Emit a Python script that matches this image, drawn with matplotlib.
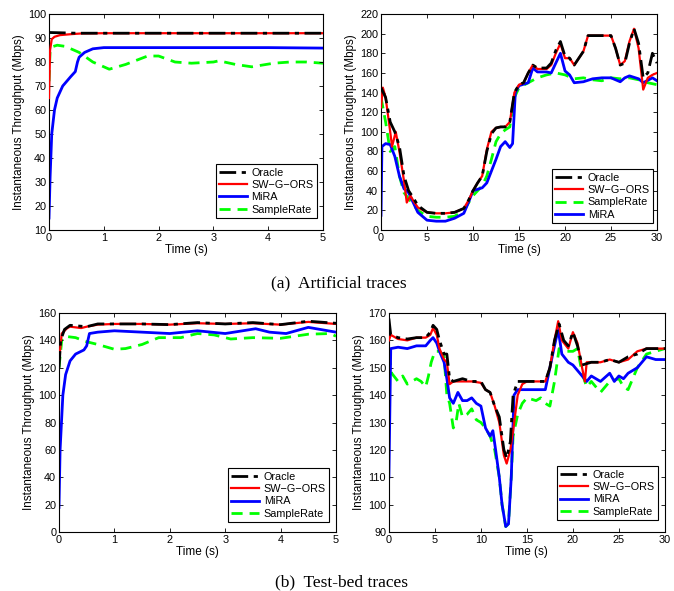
import numpy as np
import matplotlib
matplotlib.use('Agg')
import matplotlib.pyplot as plt

plt.rcParams['font.family'] = ['Liberation Sans', 'DejaVu Sans']
plt.rcParams['font.size'] = 7.5

# ---- (a) artificial traces, left: 0-5 s ----
a1_oracle_t = [0, 0.5, 1, 2, 3, 4, 5]
a1_oracle = [92.3, 92, 92, 92, 92, 92, 92]
a1_sw_t = [0, 0.02, 0.05, 0.1, 0.2, 0.4, 0.6, 1, 2, 3, 4, 5]
a1_sw = [65, 85, 89.5, 90.5, 91.2, 91.6, 91.9, 92, 92, 92, 92, 92]
a1_mira_t = [0, 0.02, 0.05, 0.1, 0.15, 0.25, 0.4, 0.48, 0.52, 0.55, 0.65, 0.8, 1.0, 2, 3, 4, 5]
a1_mira = [15, 32, 50, 60, 65, 70, 74, 76, 80, 82, 84, 85.5, 86, 86, 86, 86, 85.8]
a1_sr_t = [0, 0.02, 0.08, 0.15, 0.3, 0.55, 0.8, 1.1, 1.4, 1.8, 2.0, 2.3, 2.6, 3.0, 3.1, 3.4,
           3.7, 4.1, 4.4, 4.7, 5]
a1_sr = [72, 85, 86.5, 87, 86.5, 84, 80, 77, 79, 82.5, 82.5, 80, 79.5, 80, 80.5, 79, 78,
         79.5, 80, 80, 79.5]

# ---- (a) artificial traces, right: 0-30 s ----
a2_oracle_t = [0, 0.5, 1, 1.5, 2, 2.5, 3, 3.5, 4, 5, 6, 7, 8, 9, 9.5, 10, 10.5, 11, 11.5, 12,
               12.5, 13, 13.5, 14, 14.5, 15, 15.5, 16, 16.5, 17, 18, 18.5, 19, 19.5, 20, 20.5,
               21, 22, 22.5, 23, 24, 25, 25.5, 26, 26.5, 27, 27.5, 28, 28.5, 29, 29.5, 30]
a2_oracle = [145, 135, 110, 100, 85, 55, 40, 33, 25, 18, 17, 17, 18, 22, 30, 40, 48, 55, 80, 98,
             104, 105, 105, 110, 140, 148, 150, 160, 168, 165, 165, 170, 183, 192, 177, 175,
             168, 182, 198, 198, 198, 198, 185, 168, 170, 190, 205, 190, 155, 160, 180, 170]
a2_sw_t = [0, 0.2, 0.5, 1, 1.2, 1.6, 2, 2.5, 2.8, 3.2, 3.5, 4, 5, 6, 7, 8, 9, 9.5, 10, 10.5, 11,
           11.5, 12, 12.5, 13, 13.5, 14, 14.5, 15, 15.5, 16, 16.5, 17, 18, 18.5, 19, 19.5, 20,
           20.5, 21, 22, 22.5, 23, 24, 25, 25.5, 26, 26.5, 27, 27.5, 28, 28.5, 29, 29.5, 30]
a2_sw = [125, 145, 135, 100, 85, 100, 80, 50, 28, 35, 30, 23, 18, 17, 17, 18, 22, 30, 40, 48, 55,
         82, 100, 104, 105, 105, 110, 140, 148, 150, 160, 168, 164, 164, 168, 180, 190, 175,
         175, 168, 182, 198, 198, 198, 198, 185, 168, 172, 192, 205, 185, 143, 155, 158, 160]
a2_sr_t = [0, 0.5, 1, 1.5, 2, 2.5, 3, 4, 5, 6, 7, 8, 9, 10, 11, 11.5, 12, 12.5, 13, 13.5, 14,
           14.5, 15, 16, 17, 18, 19, 20, 21, 22, 23, 24, 25, 26, 27, 28, 29, 30]
a2_sr = [135, 110, 80, 85, 55, 38, 32, 20, 14, 13, 13, 14, 20, 35, 45, 55, 72, 90, 98, 102, 105,
         135, 145, 150, 155, 158, 160, 158, 154, 155, 153, 152, 155, 154, 155, 153, 150, 148]
a2_mira_t = [0, 0.1, 0.5, 1, 1.5, 2, 2.5, 3, 3.5, 4, 5, 6, 7, 8, 9, 9.5, 10, 11, 11.5, 12, 12.5,
             13, 13.5, 14, 14.3, 14.6, 15, 16, 16.5, 17, 18, 18.5, 19, 19.5, 20, 20.5, 21, 22,
             23, 24, 25, 26, 26.5, 27, 28, 28.5, 29.5, 30]
a2_mira = [15, 85, 88, 87, 75, 55, 42, 38, 28, 18, 10, 9, 9, 12, 17, 28, 40, 43, 48, 60, 72,
           85, 90, 84, 88, 140, 147, 150, 165, 161, 161, 160, 170, 180, 162, 158, 150, 151,
           154, 155, 155, 151, 155, 157, 154, 150, 155, 152]

# ---- (b) test-bed traces, left: 0-5 s ----
b1_oracle_t = [0, 0.03, 0.1, 0.2, 0.5, 0.7, 1.0, 1.5, 2, 2.5, 3, 3.5, 4, 4.5, 5]
b1_oracle = [120, 140, 148, 151, 150, 152, 152, 152, 151.5, 153, 152, 153, 151.5, 154, 152.5]
b1_sw_t = [0, 0.05, 0.15, 0.2, 0.4, 0.5, 0.7, 1.0, 1.5, 2, 2.5, 3, 3.5, 4, 4.5, 5]
b1_sw = [125, 145, 149, 150, 149, 150, 151.5, 152, 152, 151.5, 152.5, 152, 152.5, 151.5, 153.5,
         152]
b1_mira_t = [0, 0.02, 0.07, 0.12, 0.2, 0.3, 0.45, 0.5, 0.55, 0.7, 1, 1.5, 2, 2.5, 3, 3.55, 3.8,
             4.1, 4.5, 5]
b1_mira = [18, 60, 100, 115, 125, 130, 133, 136, 145, 146, 147, 146, 145, 147, 145, 148.5, 146,
           145, 149.5, 146]
b1_sr_t = [0, 0.05, 0.1, 0.3, 0.5, 0.7, 1.0, 1.2, 1.5, 1.8, 2.2, 2.5, 2.8, 3.1, 3.5, 4, 4.5,
           4.9, 5]
b1_sr = [120, 140, 143, 142, 139, 137, 133.5, 134, 137, 142, 142, 145, 144, 141, 142, 141.5,
         144.5, 145, 143]

# ---- (b) test-bed traces, right: 0-30 s ----
b2_oracle_t = [0, 0.2, 1, 2, 3, 4, 4.5, 4.8, 5.2, 5.5, 6, 6.3, 6.6, 7, 8, 9, 10, 10.5, 11,
               11.5, 12, 12.5, 12.8, 13.2, 13.5, 14, 15, 16, 17, 17.5, 18, 18.5, 19, 19.5, 20,
               20.5, 21, 22, 23, 24, 25, 26, 27, 28, 29, 30]
b2_oracle = [168, 162, 161, 160.5, 161, 161, 163, 165.5, 164, 160, 155, 155, 146, 145, 146,
             145, 145, 142, 141, 136, 132, 120, 117, 123, 140, 145, 145, 145, 145, 150, 160,
             166, 160, 158, 163, 158, 151, 152, 152, 153, 152, 154, 155, 157, 157, 157]
b2_sw_t = [0, 0.2, 1, 2, 3, 4, 4.5, 4.8, 5.2, 5.5, 6, 6.3, 6.6, 7, 8, 9, 10, 10.5, 11, 11.5,
           12, 12.5, 12.8, 13.2, 13.5, 14, 14.5, 15, 16, 17, 17.5, 18, 18.4, 18.8, 19.5, 20,
           20.5, 21, 21.3, 21.5, 22, 23, 24, 25, 26, 27, 28, 29, 30]
b2_sw = [160, 162, 160.5, 160, 161, 161, 162, 164.5, 162, 157, 153, 152, 144, 145, 145, 145,
         144.5, 142, 141, 136, 130, 118, 115, 120, 127, 140, 144, 145, 145, 145, 150, 160,
         167, 160, 157, 163, 159, 150, 145, 152, 152, 152, 153, 152, 153, 156, 157, 157, 157]
b2_mira_t = [0, 0.2, 1, 2, 3, 4, 4.5, 4.8, 5.2, 5.5, 6, 6.3, 6.6, 7, 7.5, 8, 8.5, 9, 9.5, 10,
             10.5, 11, 11.3, 11.6, 12, 12.3, 12.7, 13, 13.3, 13.6, 14, 15, 16, 17, 17.5, 18,
             18.4, 18.8, 19.5, 20, 21, 21.5, 22, 23, 24, 24.5, 25, 25.5, 26, 27, 28, 29, 30]
b2_mira = [110, 157, 157.5, 157, 158, 158, 160, 161, 159, 156, 152, 146, 139, 137, 141, 138,
           138, 139, 137, 136, 128, 125, 127, 120, 110, 100, 92, 93, 110, 140, 142, 142, 142,
           142, 150, 158, 164, 155, 152, 151, 147, 145, 147, 145, 148, 145, 147, 146, 148, 150,
           154, 153, 153]
b2_sr_t = [0, 0.3, 1, 1.5, 2, 3, 3.5, 4, 4.3, 4.6, 5, 5.5, 6, 6.3, 6.6, 7, 7.3, 7.6, 8, 8.5,
           9, 9.5, 10, 10.5, 11, 11.5, 12, 12.3, 12.7, 13, 13.3, 13.5, 14, 14.5, 15, 16, 16.5,
           17, 17.5, 18, 18.5, 19, 20, 20.5, 21, 21.5, 22, 23, 24, 25, 25.5, 26, 27, 28, 29, 30]
b2_sr = [155, 148, 145, 147, 144, 146, 145, 143, 147, 152, 156, 156, 154, 140, 137, 128, 130,
         137, 132, 133, 135, 131, 130, 128, 125, 120, 110, 100, 92, 93, 110, 125, 133, 137,
         139, 138, 139, 137, 136, 145, 157, 156, 156, 157, 148, 143, 145, 141, 145, 146, 143,
         142, 150, 155, 156, 157]

ylab = 'Instantaneous Throughput (Mbps)'
styles = {
    'Oracle': dict(color='black', ls=(0, (6, 2, 1.5, 2)), lw=2.0, zorder=4),
    'SW\u2212G\u2212ORS': dict(color='red', ls='-', lw=1.6, zorder=3),
    'MiRA': dict(color='blue', ls='-', lw=2.0, zorder=2),
    'SampleRate': dict(color='#00ff00', ls=(0, (4, 2.5)), lw=2.0, zorder=1),
}


def panel(rect, series, xlim, ylim, yticks, xticks, leg_anchor):
    ax = fig.add_axes(rect)
    for name, t, v in series:
        ax.plot(t, v, label=name, **styles[name])
    ax.set_xlim(xlim)
    ax.set_ylim(ylim)
    ax.set_xticks(xticks)
    ax.set_yticks(yticks)
    ax.tick_params(direction='in', top=True, right=True, length=3, width=0.6, pad=2,
                   labelsize=7.8)
    for s in ax.spines.values():
        s.set_linewidth(0.8)
    ax.set_xlabel('Time (s)', fontsize=8.5, labelpad=1)
    ax.set_ylabel(ylab, fontsize=8.4, labelpad=2)
    leg = ax.legend(loc='lower right', bbox_to_anchor=leg_anchor, borderaxespad=0,
                    fancybox=False, edgecolor='black', framealpha=1, fontsize=7.8,
                    handlelength=2.6, handletextpad=0.4, labelspacing=0.22,
                    borderpad=0.3)
    leg.get_frame().set_linewidth(0.8)
    return ax


fig = plt.figure(figsize=(6.74, 5.91), dpi=100)

panel([0.0727, 0.6108, 0.4065, 0.3655],
      [('Oracle', a1_oracle_t, a1_oracle), ('SW\u2212G\u2212ORS', a1_sw_t, a1_sw),
       ('MiRA', a1_mira_t, a1_mira), ('SampleRate', a1_sr_t, a1_sr)],
      (0, 5), (10, 100), range(10, 101, 10), range(0, 6), (0.978, 0.056))

panel([0.5653, 0.6108, 0.4095, 0.3655],
      [('Oracle', a2_oracle_t, a2_oracle), ('SW\u2212G\u2212ORS', a2_sw_t, a2_sw),
       ('SampleRate', a2_sr_t, a2_sr), ('MiRA', a2_mira_t, a2_mira)],
      (0, 30), (0, 220), range(0, 221, 20), range(0, 31, 5), (0.986, 0.032))

panel([0.0875, 0.0998, 0.411, 0.3706],
      [('Oracle', b1_oracle_t, b1_oracle), ('SW\u2212G\u2212ORS', b1_sw_t, b1_sw),
       ('MiRA', b1_mira_t, b1_mira), ('SampleRate', b1_sr_t, b1_sr)],
      (0, 5), (0, 160), range(0, 161, 20), range(0, 6), (0.975, 0.046))

panel([0.577, 0.0998, 0.4095, 0.3706],
      [('Oracle', b2_oracle_t, b2_oracle), ('SW\u2212G\u2212ORS', b2_sw_t, b2_sw),
       ('MiRA', b2_mira_t, b2_mira), ('SampleRate', b2_sr_t, b2_sr)],
      (0, 30), (90, 170), range(90, 171, 10), range(0, 31, 5), (0.975, 0.055))

fig.text(0.502, 1 - 283 / 591, '(a)  Artificial traces', ha='center', va='center',
         family='Liberation Serif', fontsize=12.5)
fig.text(0.507, 1 - 582 / 591, '(b)  Test-bed traces', ha='center', va='center',
         family='Liberation Serif', fontsize=12.5)

fig.savefig('out.png', dpi=100)
